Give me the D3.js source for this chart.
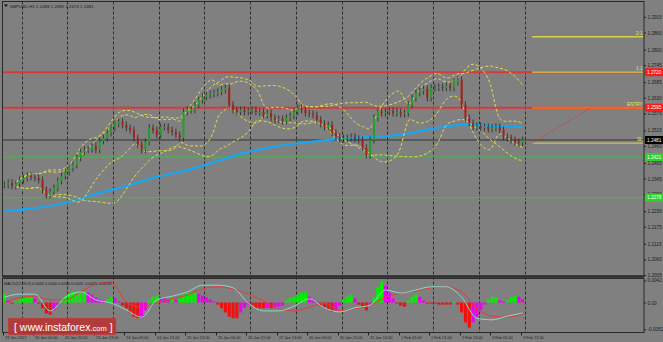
<!DOCTYPE html>
<html><head><meta charset="utf-8">
<script src="https://cdn.jsdelivr.net/npm/d3@7"></script>
<style>html,body{margin:0;padding:0;background:#808080;overflow:hidden}svg{display:block;font-family:"Liberation Sans",Arial,sans-serif}</style>
</head><body><svg id="c" width="663" height="342"></svg>
<script>
// ---------- DATA ----------
const symbolHeader = "GBPUSD,H1  1.2483 1.2485 1.2474 1.2481";
const macdHeader = "MACD(12,26,9) 0.0005 0.0000 0.0000 0.0005 -0.0021 -0.0019";
// 2-hour closes, 19 Jan 13:00 -> 3 Feb 22:00
const closes = [
1.2323,1.2330,1.2319,1.2326,1.2340,1.2347,1.2354,1.2351,1.2347,1.2340,
1.2305,1.2287,1.2298,1.2312,1.2337,1.2354,1.2368,1.2382,1.2393,1.2418,
1.2439,1.2446,1.2449,1.2460,1.2446,1.2478,1.2488,1.2506,1.2524,1.2538,
1.2545,1.2534,1.2524,1.2516,1.2488,1.2464,1.2446,1.2474,1.2524,1.2516,
1.2499,1.2527,1.2527,1.2516,1.2509,1.2499,1.2488,1.2580,1.2587,1.2587,
1.2605,1.2622,1.2633,1.2640,1.2643,1.2647,1.2651,1.2658,1.2665,1.2605,
1.2587,1.2580,1.2587,1.2580,1.2584,1.2587,1.2580,1.2580,1.2569,1.2576,
1.2559,1.2552,1.2555,1.2548,1.2559,1.2566,1.2580,1.2594,1.2587,1.2576,
1.2573,1.2569,1.2552,1.2538,1.2527,1.2534,1.2506,1.2492,1.2485,1.2488,
1.2488,1.2492,1.2485,1.2481,1.2453,1.2428,1.2481,1.2559,1.2580,1.2576,
1.2580,1.2584,1.2576,1.2580,1.2573,1.2576,1.2605,1.2629,1.2647,1.2654,
1.2661,1.2629,1.2665,1.2665,1.2668,1.2665,1.2672,1.2665,1.2686,1.2693,
1.2605,1.2559,1.2541,1.2527,1.2531,1.2524,1.2527,1.2520,1.2524,1.2527,
1.2516,1.2492,1.2488,1.2481,1.2474,1.2471,1.2481];
// moving average, one value every 16 hours
const maValues = [1.2231,1.2241,1.2259,1.2291,1.2319,1.2351,1.2375,1.2407,1.2439,1.2460,1.2474,1.2485,1.2492,1.2499,1.2520,1.2534,1.2531,1.2527];
// MACD main / signal, one value every 8 hours
const macdLine = [0.0010,0.0016,0.0016,-0.0016,0.0010,0.0020,0.0005,-0.0001,-0.0014,-0.0028,0.0005,0.0012,0.0020,0.0033,0.0033,0.0028,-0.0001,-0.0016,-0.0016,-0.0007,0.0007,-0.0010,-0.0018,-0.0010,-0.0005,0.0024,0.0018,0.0024,0.0030,0.0030,0.0010,-0.0030,-0.0033,-0.0026,-0.0020];
const signalLine = [0.0001,0.0009,0.0012,0.0005,0.0005,0.0020,0.0035,0.0039,0.0001,-0.0009,-0.0001,0.0007,0.0014,0.0026,0.0030,0.0026,0.0016,0.0003,-0.0012,-0.0016,-0.0009,-0.0001,-0.0016,-0.0012,-0.0005,0.0010,0.0018,0.0022,0.0028,0.0030,0.0020,-0.0012,-0.0026,-0.0028,-0.0022];
// MACD histogram, 2-hour
const histValues = [
0.0017,0.0004,-0.0002,0.0002,0.0006,0.0008,0.0010,0.0010,0.0008,-0.0002,
-0.0011,-0.0021,-0.0023,-0.0015,-0.0006,0.0004,0.0011,0.0017,0.0021,0.0021,
0.0021,0.0021,0.0019,0.0015,0.0010,0.0006,0.0004,0.0006,0.0011,0.0008,
0.0002,-0.0006,-0.0011,-0.0019,-0.0027,-0.0030,-0.0029,-0.0015,0.0004,0.0011,
0.0013,0.0010,0.0008,0.0006,0.0008,0.0006,0.0008,0.0015,0.0017,0.0019,
0.0019,0.0017,0.0013,0.0010,0.0006,0.0002,-0.0004,-0.0011,-0.0019,-0.0027,
-0.0030,-0.0030,-0.0019,-0.0010,-0.0004,-0.0006,-0.0010,-0.0011,-0.0011,-0.0010,
-0.0011,-0.0010,-0.0008,-0.0006,0.0004,0.0008,0.0011,0.0015,0.0019,0.0019,
0.0011,0.0006,0.0002,-0.0006,-0.0010,-0.0013,-0.0017,-0.0015,-0.0006,0.0006,
0.0011,0.0015,0.0008,-0.0004,-0.0010,-0.0015,-0.0006,0.0010,0.0029,0.0040,
0.0032,0.0019,0.0008,-0.0002,-0.0006,-0.0008,0.0004,0.0011,0.0015,0.0011,
0.0004,-0.0002,-0.0002,-0.0002,-0.0004,-0.0004,-0.0004,-0.0004,0.0002,-0.0004,
-0.0019,-0.0038,-0.0048,-0.0038,-0.0027,-0.0015,-0.0004,0.0006,0.0010,0.0010,
0.0004,0.0002,0.0004,0.0010,0.0013,0.0011,0.0006];
const priceTicks = [1.2915,1.2860,1.2800,1.2745,1.2685,1.2630,1.2575,1.2515,1.2460,1.2400,1.2345,1.2290,1.2230,1.2175,1.2115,1.2060,1.2005];
const macdTicks = [0.0042,0.0000,-0.0051];
const macdTickLabels = ["0.0042","0.00","-0.0051"];
const dateLabels = ["19 Jan 2017","20 Jan 05:00","20 Jan 21:00","23 Jan 13:00","24 Jan 05:00","24 Jan 21:00","25 Jan 13:00","26 Jan 05:00","26 Jan 21:00","27 Jan 13:00","30 Jan 05:00","30 Jan 21:00","31 Jan 13:00","1 Feb 05:00","1 Feb 21:00","2 Feb 13:00","3 Feb 05:00","3 Feb 21:00"];
const levelPrices = [1.2720, 1.2595, 1.2421, 1.2278];
const levelKinds  = ["res","res","sup","sup"];
const lastPrice = 1.2481;
const tradeNames  = ["2:1","1:1","ENTRY","SL"];
const tradePrices = [1.2845, 1.2720, 1.2595, 1.2470];

// ---------- LAYOUT ----------
const svg = d3.select("#c");
const FONT = "Liberation Sans,Arial,sans-serif";
const L = 2.5, R = 644, mainTop = 1.5, mainBot = 276.5, macdTop = 278.5, macdBot = 332.5;
const hoursPerBar = 2, hoursPerLabel = 16, hoursPerGrid = 24, firstGrid = 10;
const x = d3.scaleLinear().domain([0, 272]).range([2.5, 520.7]);
const y = d3.scaleLinear().domain([1.1998, 1.29675]).range([277, 2]);
const ym = d3.scaleLinear().domain([-0.0058, 0.0045]).range([332.95, 278.9]);
const barX = i => x(i * hoursPerBar + 1);

svg.append("rect").attr("width",663).attr("height",342).attr("fill","#808080");
const defs = svg.append("defs");
defs.append("clipPath").attr("id","cm").append("rect").attr("x",L).attr("y",mainTop).attr("width",R-L).attr("height",mainBot-mainTop);
defs.append("clipPath").attr("id","cd").append("rect").attr("x",L).attr("y",macdTop).attr("width",R-L).attr("height",macdBot-macdTop);

// vertical grid
const gridHours = d3.range(firstGrid, 280, hoursPerGrid);
svg.append("g").selectAll("line").data(gridHours).join("line")
  .attr("x1",d=>Math.round(x(d))+0.5).attr("x2",d=>Math.round(x(d))+0.5)
  .attr("y1",mainTop).attr("y2",macdBot)
  .attr("stroke","#2e2e2e").attr("stroke-width",1).attr("stroke-dasharray","3,2");

const gm = svg.append("g").attr("clip-path","url(#cm)");

// horizontal levels
levelPrices.forEach((p,i)=>{
  gm.append("line").attr("x1",L).attr("x2",R).attr("y1",y(p)).attr("y2",y(p))
   .attr("stroke", levelKinds[i]==="res" ? "#d83a3a" : "#33c433")
   .attr("stroke-width", levelKinds[i]==="res" ? 2 : 1.2);
});
gm.append("line").attr("x1",L).attr("x2",R).attr("y1",y(lastPrice)).attr("y2",y(lastPrice))
  .attr("stroke","#333").attr("stroke-width",1);

// moving average
const maBars = d3.range(0, closes.length, 8);
gm.append("path").datum(maValues)
  .attr("d", d3.line().x((d,i)=>barX(maBars[i])).y(d=>y(d)).curve(d3.curveMonotoneX))
  .attr("fill","none").attr("stroke","#1aa6ee").attr("stroke-width",2.2);

// Bollinger bands computed from closes
function bands(period, dev){
  return closes.map((c,i)=>{
    const w = closes.slice(Math.max(0,i-period+1), i+1);
    const m = d3.mean(w), s = Math.sqrt(d3.mean(w, v=>(v-m)*(v-m)));
    return {i, u:m+dev*s, l:m-dev*s};
  }).slice(3);
}
[[10,2],[20,2]].forEach(([p,dv])=>{
  const b = bands(p,dv);
  ["u","l"].forEach(k=>{
    gm.append("path").datum(b)
      .attr("d", d3.line().x(d=>barX(d.i)).y(d=>y(d[k])).curve(d3.curveBasis))
      .attr("fill","none").attr("stroke","#e2dc4a").attr("stroke-width",1).attr("stroke-dasharray","3,2");
  });
});

// candles
const opens = closes.map((c,i)=> i===0 ? c : closes[i-1]);
const candles = closes.map((c,i)=>({i, o:opens[i], c, hi:Math.max(opens[i],c), lo:Math.min(opens[i],c)}));
const cg = gm.append("g");
cg.selectAll("line").data(candles).join("line")
  .attr("x1",d=>barX(d.i)).attr("x2",d=>barX(d.i))
  .attr("y1",d=>y(d.hi)-3.5).attr("y2",d=>y(d.lo)+3.5)
  .attr("stroke","#262626").attr("stroke-width",0.8);
cg.selectAll("rect").data(candles).join("rect")
  .attr("x",d=>barX(d.i)-1).attr("width",2)
  .attr("y",d=>y(d.hi)).attr("height",d=>Math.max(1,y(d.lo)-y(d.hi)))
  .attr("fill",d=>d.c>=d.o ? "#22a02a" : "#a8201c");

// fractals
const fr = gm.append("g").attr("fill","#1c1c1c");
candles.forEach((d,i)=>{
  if(i<2||i>candles.length-3) return;
  const nb=[candles[i-2],candles[i-1],candles[i+1],candles[i+2]];
  if(nb.every(n=>d.hi>n.hi)) fr.append("path").attr("transform",`translate(${barX(i)},${y(d.hi)-7.5})`).attr("d","M0,-2.5L2.6,0.6L0.7,0.6L0.7,2.6L-0.7,2.6L-0.7,0.6L-2.6,0.6Z");
  if(nb.every(n=>d.lo<n.lo)) fr.append("path").attr("transform",`translate(${barX(i)},${y(d.lo)+7.5})`).attr("d","M0,2.5L2.6,-0.6L0.7,-0.6L0.7,-2.6L-0.7,-2.6L-0.7,-0.6L-2.6,-0.6Z");
});

// trade lines
const tradeStart = 278, tradeColors = ["#d6d24a","#d6d24a","#ff6a10","#c9c268"];
tradePrices.forEach((p,i)=>{
  gm.append("line").attr("x1",x(tradeStart)).attr("x2",R-1).attr("y1",y(p)).attr("y2",y(p))
    .attr("stroke",tradeColors[i]).attr("stroke-width", i===2?2:1.3);
  svg.append("text").attr("x",R-1.5).attr("y",y(p)-1.8).attr("text-anchor","end")
    .attr("font-size",4.6).attr("font-family",FONT).attr("fill","#ece45a").text(tradeNames[i]);
});
gm.append("line").attr("x1",x(tradeStart)).attr("y1",y(tradePrices[3]))
  .attr("x2",x(tradeStart+31)).attr("y2",y(tradePrices[2]))
  .attr("stroke","#e03a3a").attr("stroke-width",1).attr("stroke-dasharray","1.5,1.5");

// MACD panel
const gd = svg.append("g").attr("clip-path","url(#cd)");
const histColor = (v,i)=>{
  const prev = i>0 ? histValues[i-1] : v;
  if (v>=0) return v>=prev ? "#00f000" : "#f000f0";
  return v<=prev ? "#f01010" : "#f000f0";
};
gd.selectAll("rect").data(histValues).join("rect")
  .attr("x",(d,i)=>barX(i)-1.6).attr("width",3.2)
  .attr("y",d=>Math.min(ym(d),ym(0))).attr("height",d=>Math.abs(ym(d)-ym(0)))
  .attr("fill",(d,i)=>histColor(d,i));
const macdBars = d3.range(0, closes.length, 4);
gd.append("path").datum(signalLine)
  .attr("d", d3.line().x((d,i)=>barX(macdBars[i])).y(d=>ym(d)).curve(d3.curveMonotoneX))
  .attr("fill","none").attr("stroke","#e83a3a").attr("stroke-width",1);
gd.append("path").datum(macdLine)
  .attr("d", d3.line().x((d,i)=>barX(macdBars[i])).y(d=>ym(d)).curve(d3.curveMonotoneX))
  .attr("fill","none").attr("stroke","#8ad8c8").attr("stroke-width",1);

// frames
const frame = svg.append("g").attr("fill","none").attr("stroke","#2a2a2a");
frame.append("rect").attr("x",L).attr("y",mainTop).attr("width",R-L).attr("height",mainBot-mainTop).attr("stroke-width",1);
frame.append("line").attr("x1",L).attr("x2",R).attr("y1",mainBot).attr("y2",mainBot).attr("stroke-width",2.5);
frame.append("rect").attr("x",L).attr("y",macdTop).attr("width",R-L).attr("height",macdBot-macdTop).attr("stroke-width",1);

// right axes
function styleAxis(g){
  g.select(".domain").remove();
  g.selectAll("line").attr("stroke","#222");
  g.selectAll("text").attr("font-size",4.7).attr("fill","#1e1e1e").attr("x",3.5).attr("font-family",FONT);
}
svg.append("g").attr("transform",`translate(${R},0)`)
  .call(d3.axisRight(y).tickValues(priceTicks).tickSize(2).tickFormat(d3.format(".4f"))).call(styleAxis);
svg.append("g").attr("transform",`translate(${R},0)`)
  .call(d3.axisRight(ym).tickValues(macdTicks).tickSize(2).tickFormat((d,i)=>macdTickLabels[i])).call(styleAxis);

// price boxes
const boxes = [
  {p:levelPrices[0], fill:"#ff1a1a"},
  {p:levelPrices[1], fill:"#ff1a1a"},
  {p:lastPrice, fill:"#000"},
  {p:levelPrices[2], fill:"#2fd02f"},
  {p:levelPrices[3], fill:"#2fd02f"}];
boxes.forEach(b=>{
  svg.append("rect").attr("x",R+1).attr("y",y(b.p)-4).attr("width",663-R-1).attr("height",8).attr("fill",b.fill);
  svg.append("text").attr("x",R+3).attr("y",y(b.p)+1.7).attr("font-size",4.7).attr("font-family",FONT).attr("fill","#fff").text(d3.format(".4f")(b.p));
});

// date axis
const dg = svg.append("g");
dateLabels.forEach((t,i)=>{
  const xx = Math.round(x(i*hoursPerLabel))+0.5;
  dg.append("line").attr("x1",xx).attr("x2",xx).attr("y1",macdBot).attr("y2",macdBot+3).attr("stroke","#222");
  dg.append("text").attr("x",xx+1.5).attr("y",338.5).attr("font-size",3.9).attr("font-family",FONT).attr("fill","#1e1e1e").text(t);
});

// headers
svg.append("path").attr("d","M4,4.5L8,4.5L6,7Z").attr("fill","#111");
svg.append("text").attr("x",9.5).attr("y",7.5).attr("font-size",4.4).attr("font-family",FONT).attr("fill","#1a1a1a").text(symbolHeader);
svg.append("text").attr("x",4).attr("y",284.8).attr("font-size",3.9).attr("font-family",FONT).attr("fill","#1a1a1a").text(macdHeader);

// watermark
const wm = svg.append("g");
wm.append("rect").attr("x",8).attr("y",318).attr("width",108).attr("height",17).attr("fill","#b83232").attr("fill-opacity",0.88).attr("stroke","#c85050").attr("stroke-width",0.5);
const wt = wm.append("text").attr("x",14).attr("y",330.5).attr("fill","#fff").attr("font-size",10.5).attr("font-family",FONT);
wt.append("tspan").text("[  www.instaforex");
wt.append("tspan").attr("font-size",7.5).text(".com");
wt.append("tspan").text("  ]");
</script></body></html>
